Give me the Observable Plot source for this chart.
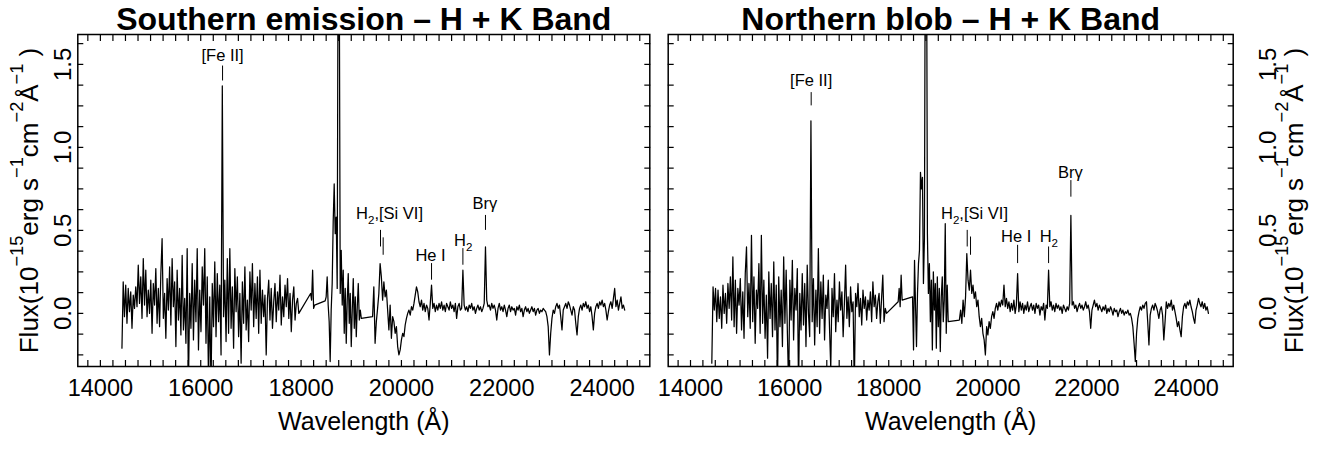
<!DOCTYPE html>
<html>
<head>
<meta charset="utf-8">
<script src="https://cdn.jsdelivr.net/npm/d3@7"></script>
<script src="https://cdn.jsdelivr.net/npm/@observablehq/plot@0.6"></script>
<style>
  html, body { margin: 0; padding: 0; background: #fff; }
  #root { position: relative; width: 1320px; height: 449px; overflow: hidden; background: #fff; }
  #root svg { position: absolute; top: 0; }
</style>
</head>
<body>
<div id="root"></div>
<script>
// ---------------- data ----------------
// wavelength sampling (Å) of the spectral segments that exist in both panels
const waveA = d3.range(14430, 17956, 25);          // H band
const waveB = [18190, 18210, 18230, 18250, 18270];  // small piece inside telluric gap
const waveC = d3.range(18480, 19201, 20);           // Paα region
const waveD = d3.range(19425, 24451, 25);           // K band

// Southern emission flux (1e-15 erg/s/cm2/Å)
const southA = [
 -0.21,0.19,-0.02,0.17,-0.06,0.15,0.01,0.13,-0.09,0.11,
 0.03,0.16,0.04,0.29,0.06,0.22,-0.03,0.33,0.05,0.26,
 -0.02,0.14,0.00,0.20,-0.12,0.18,0.05,0.27,-0.06,0.15,
 -0.08,0.24,0.45,-0.03,0.12,-0.15,0.21,0.02,0.28,-0.07,
 0.33,0.04,0.19,-0.20,0.26,-0.04,0.15,-0.13,0.35,-0.10,
 0.09,-0.18,0.39,-0.45,0.12,-0.09,0.30,-0.16,0.20,-0.05,
 0.39,-0.22,0.14,-0.11,0.28,0.05,0.39,-0.18,0.22,-0.42,
 0.10,-0.45,0.18,-0.08,0.31,-0.14,0.24,-0.05,0.17,-0.25,
 1.37,-0.02,0.20,-0.17,0.33,-0.12,0.39,-0.09,0.16,-0.21,
 0.27,0.01,0.22,-0.14,0.12,-0.30,0.19,-0.06,0.28,-0.10,
 0.08,-0.17,0.25,0.02,0.30,-0.08,0.18,-0.03,0.22,-0.12,
 0.26,-0.06,0.14,-0.02,0.11,-0.25,0.09,0.20,-0.04,0.15,
 -0.09,0.07,0.18,-0.05,0.13,0.02,0.23,-0.07,0.10,-0.02,
 0.17,0.04,0.21,-0.03,0.12,-0.11,0.08,0.16,-0.04,0.06,
 0.09,0.00
];
const southB = [0.12, 0.08, 0.26, 0.03, 0.05];
const southC = [
 0.075,0.10,0.22,0.05,-0.05,-0.29,0.02,0.18,0.55,0.78,
 0.48,0.58,0.15,2.5,2.2,0.12,0.38,0.05,0.26,-0.12,
 0.15,-0.18,0.08,0.24,-0.06,0.12,-0.20,0.02,0.21,-0.09,
 0.10,-0.14,0.04,0.18,-0.04,0.02,-0.03
];
const southD = [
 -0.02,0.16,-0.18,-0.05,0.03,0.12,0.30,0.22,0.08,0.19,
 0.10,0.14,0.02,-0.10,0.05,-0.15,-0.02,-0.05,-0.12,-0.08,
 -0.20,-0.25,-0.22,-0.16,-0.12,-0.14,-0.07,-0.03,0.00,0.02,
 -0.01,0.04,0.02,0.06,0.11,0.16,0.13,0.07,0.04,0.08,
 0.02,0.06,0.01,0.05,0.03,-0.04,0.06,0.17,0.03,0.06,
 0.01,0.05,0.02,0.06,0.03,0.07,0.02,0.05,0.01,0.06,
 0.04,0.02,0.07,0.03,0.05,0.01,0.06,-0.03,0.04,0.06,
 0.02,0.03,0.26,0.05,0.02,0.04,0.01,0.05,0.03,0.06,
 0.02,0.04,0.00,0.03,0.05,0.02,0.04,0.01,0.03,0.06,
 0.40,0.08,0.04,0.05,0.02,0.06,0.03,0.05,0.02,-0.04,
 0.03,0.06,0.02,0.04,0.01,0.05,0.02,-0.02,0.03,0.05,
 0.01,0.04,0.02,0.03,-0.01,0.04,0.02,0.05,0.01,0.03,
 -0.02,0.02,0.04,0.01,0.03,0.00,0.02,0.04,0.01,0.03,
 -0.01,0.02,0.03,0.00,0.02,0.01,0.03,0.02,0.01,-0.02,
 -0.08,-0.25,-0.12,-0.03,0.02,0.00,0.04,0.06,0.03,0.05,
 -0.02,-0.10,0.02,0.04,0.06,0.03,0.07,0.05,0.02,-0.01,
 0.04,0.02,-0.06,-0.13,-0.02,0.03,0.05,0.02,0.06,0.04,
 0.07,0.03,0.05,0.01,0.04,-0.02,-0.10,0.00,0.04,0.06,
 0.03,0.07,0.05,0.08,0.04,0.06,0.02,-0.04,0.01,0.05,
 0.07,0.03,0.09,0.15,0.04,0.08,0.02,0.06,0.10,0.03,
 0.05,0.02
];

// Northern blob flux
const northA = [
 -0.30,0.16,0.02,0.15,-0.05,0.14,-0.03,0.10,-0.09,0.17,
 0.00,0.12,-0.06,0.18,0.03,0.22,-0.04,0.34,-0.08,0.20,
 -0.12,0.15,0.05,0.21,-0.10,0.13,-0.15,0.24,0.40,-0.02,
 0.18,-0.09,0.47,-0.05,0.22,-0.18,0.14,0.03,0.30,-0.12,
 0.47,-0.06,0.20,-0.15,0.11,-0.27,0.25,-0.03,0.18,-0.14,
 0.31,-0.10,0.17,-0.45,0.22,-0.08,0.14,-0.20,0.34,-0.06,
 0.26,-0.12,-0.45,0.20,-0.04,0.32,-0.16,0.15,0.02,0.27,
 -0.45,0.12,-0.10,0.24,-0.07,0.18,-0.20,0.29,0.00,-0.14,
 1.16,-0.05,0.21,-0.19,0.14,-0.08,0.39,-0.12,0.19,-0.03,
 0.23,-0.16,0.11,0.03,0.20,-0.09,-0.33,0.15,-0.02,0.24,
 -0.11,0.08,-0.05,0.19,0.02,0.13,-0.14,0.06,0.29,-0.03,
 0.10,-0.08,0.16,0.01,0.07,-0.45,0.12,0.04,0.18,-0.02,
 0.09,-0.07,0.14,0.03,0.10,-0.04,0.08,0.02,0.13,-0.05,
 0.19,0.04,0.11,-0.03,0.07,0.12,-0.06,0.09,0.23,-0.05,
 0.03,0.00
];
const northB = [0.07, 0.15, 0.04, 0.23, 0.08];
const northC = [
 0.10,-0.22,0.32,0.05,-0.20,0.12,0.30,0.38,0.85,0.75,
 0.82,0.18,0.45,2.6,2.6,0.48,0.12,0.30,-0.05,0.20,
 -0.22,0.25,0.02,0.18,-0.21,0.22,-0.08,0.15,-0.23,0.10,
 0.22,-0.05,0.08,0.54,-0.12,0.17,-0.05
];
const northD = [
 -0.04,0.02,-0.06,0.08,-0.02,0.10,0.36,0.20,0.14,0.26,
 0.12,0.17,0.09,0.13,0.04,0.08,-0.02,-0.08,-0.03,-0.12,
 -0.16,-0.25,-0.08,-0.13,-0.05,-0.09,-0.02,0.01,-0.03,0.03,
 0.06,0.02,0.07,0.04,0.08,0.05,0.17,0.04,0.09,0.03,
 0.07,0.01,0.06,0.02,0.08,0.00,0.05,0.24,0.01,0.07,
 0.02,0.06,0.00,0.05,0.02,0.07,0.01,0.04,0.06,0.02,
 0.05,0.00,0.06,0.03,0.05,-0.01,0.04,0.02,0.06,-0.04,
 0.05,0.03,0.26,0.04,0.07,0.02,0.05,0.01,0.06,0.03,
 0.05,0.02,0.04,0.00,0.05,0.03,0.01,0.04,0.02,0.06,
 0.59,0.05,0.07,0.03,0.05,0.01,0.04,0.06,0.03,0.05,
 0.02,0.04,0.07,0.03,0.05,0.01,-0.09,0.02,0.05,0.08,
 0.04,0.06,0.02,0.05,0.03,0.01,0.04,0.02,0.05,0.00,
 0.03,0.01,0.04,0.02,-0.01,0.03,0.01,0.02,-0.02,0.01,
 0.03,0.00,0.02,-0.01,0.01,0.00,0.02,-0.01,0.00,-0.03,
 -0.08,-0.18,-0.29,-0.12,-0.03,0.01,0.04,0.02,0.05,0.03,
 0.06,0.07,-0.05,-0.19,-0.01,0.03,0.05,0.02,0.06,0.04,
 0.01,-0.03,0.02,0.04,-0.01,-0.16,-0.05,0.07,0.03,0.06,
 0.04,0.08,0.02,0.05,0.01,-0.03,-0.08,-0.05,-0.10,-0.14,
 -0.02,0.04,0.06,0.03,0.07,0.05,0.08,0.04,0.01,-0.03,
 -0.06,0.02,0.05,0.09,0.06,0.04,0.07,0.03,0.06,0.02,
 0.04,0.00
];

// line identifications: label text positions and marker ticks (Å, flux units)
const southLabels = [
  {w: 16435, y: 1.555, t: "[Fe II]"},
  {w: 19763, y: 0.598, t: "H_{2},[Si VI]"},
  {w: 20580, y: 0.347, t: "He I"},
  {w: 21231, y: 0.44,  t: "H_{2}"},
  {w: 21662, y: 0.66,  t: "Brγ"}
];
const southMarkers = [
  {w: 16435, y1: 1.40, y2: 1.49},
  {w: 19583, y1: 0.40, y2: 0.50},
  {w: 19636, y1: 0.35, y2: 0.455},
  {w: 20600, y1: 0.20, y2: 0.30},
  {w: 21225, y1: 0.29, y2: 0.39},
  {w: 21675, y1: 0.50, y2: 0.59}
];
const northLabels = [
  {w: 16435, y: 1.40, t: "[Fe II]"},
  {w: 19730, y: 0.60, t: "H_{2},[Si VI]"},
  {w: 20572, y: 0.46, t: "He I"},
  {w: 21230, y: 0.46, t: "H_{2}"},
  {w: 21667, y: 0.85, t: "Brγ"}
];
const northMarkers = [
  {w: 16435, y1: 1.25, y2: 1.33},
  {w: 19583, y1: 0.40, y2: 0.50},
  {w: 19650, y1: 0.35, y2: 0.46},
  {w: 20600, y1: 0.30, y2: 0.41},
  {w: 21225, y1: 0.30, y2: 0.40},
  {w: 21675, y1: 0.70, y2: 0.80}
];

// axes
const xDomain = [13550, 24950];
const yDomain = [-0.32, 1.68];
const xMajor = [14000, 16000, 18000, 20000, 22000, 24000];
const xMinor = d3.range(13750, 24951, 250);
const yMajor = [0.0, 0.5, 1.0, 1.5];
const yMinor = d3.range(-0.25, 1.68, 0.125);
const xTitle = "Wavelength (Å)";
const yTitle = "Flux(10^{−15}erg s^{−1}cm^{−2}Å^{−1} )";

// ---------------- drawing ----------------
const FONT = "'Liberation Sans', Arial, Helvetica, sans-serif";

function spectrum(segs) {
  const out = [];
  for (const [waves, flux] of segs) {
    const n = Math.min(waves.length, flux.length);
    for (let i = 0; i < n; ++i) out.push({w: waves[i], f: flux[i]});
  }
  return out;
}

// turn ^{..} and _{..} into raised / lowered tspans
function rich(fontSize, scale = 0.7, raise = 0.5, lower = 0.25) {
  return (index, scales, values, dims, ctx, next) => {
    const g = next(index, scales, values, dims, ctx);
    d3.select(g).selectAll("text").each(function () {
      const s = this.textContent;
      if (!/[\^_]\{/.test(s)) return;
      const el = d3.select(this);
      el.text(null);
      const re = /\^\{([^}]*)\}|_\{([^}]*)\}|([^\^_]+)/g;
      let m, shift = 0;
      while ((m = re.exec(s))) {
        const isSup = m[1] != null, isSub = m[2] != null;
        const target = isSup ? -raise * fontSize : isSub ? lower * fontSize : 0;
        const ts = el.append("tspan").text(isSup ? m[1] : isSub ? m[2] : m[3]);
        if (target !== shift) ts.attr("dy", target - shift);
        if (isSup || isSub) ts.attr("font-size", fontSize * scale);
        shift = target;
      }
    });
    return g;
  };
}

function panel({title, data, labels, markers, marginLeft, marginRight, side}) {
  return Plot.plot({
    width: 660,
    height: 449,
    marginLeft, marginRight,
    marginTop: 34,
    marginBottom: 83,
    x: {domain: xDomain, axis: null},
    y: {domain: yDomain, axis: null},
    style: {fontFamily: FONT, background: "white", color: "black", overflow: "visible"},
    marks: [
      Plot.line(data, {x: "w", y: "f", stroke: "black", strokeWidth: 1.25, clip: true}),
      Plot.ruleX(markers, {x: "w", y1: "y1", y2: "y2", stroke: "black", strokeWidth: 1}),
      Plot.text(labels, {x: "w", y: "y", text: "t", fontSize: 16.5,
        fill: "black", textAnchor: "middle", lineAnchor: "middle", render: rich(16.5, 0.7, 0.5, 0.3)}),
      Plot.frame({stroke: "black", strokeWidth: 1.5}),
      // inward ticks on all four sides
      Plot.axisX(xMinor, {anchor: "bottom", tickSize: -6, fill: "none", strokeWidth: 1.2}),
      Plot.axisX(xMinor, {anchor: "top", tickSize: -6, fill: "none", strokeWidth: 1.2}),
      Plot.axisY(yMinor, {anchor: "left", tickSize: -6, fill: "none", strokeWidth: 1.2}),
      Plot.axisY(yMinor, {anchor: "right", tickSize: -6, fill: "none", strokeWidth: 1.2}),
      // x tick labels
      Plot.text(xMajor, {x: d => d, frameAnchor: "bottom", dy: 13, lineAnchor: "top",
        text: d => String(d), fontSize: 23.5, fill: "black"}),
      // y tick labels (rotated)
      Plot.text(yMajor, {y: d => d, frameAnchor: side, dx: side === "left" ? -7.3 : 42.3,
        rotate: -90, textAnchor: "middle", lineAnchor: "bottom",
        text: d => d.toFixed(1), fontSize: 24, fill: "black"}),
      // axis titles
      Plot.text([xTitle], {frameAnchor: "bottom", dy: 63, lineAnchor: "bottom",
        text: d => d, fontSize: 25, fill: "black"}),
      Plot.text([yTitle], {frameAnchor: side, dx: side === "left" ? -40.3 : 69.3,
        rotate: -90, textAnchor: "middle", lineAnchor: "bottom",
        text: d => d, fontSize: 26, fill: "black", render: rich(26, 0.7, 0.55)}),
      // panel title
      Plot.text([title], {frameAnchor: "top", dy: -4.5, lineAnchor: "bottom",
        text: d => d, fontSize: 32, fontWeight: "bold", fill: "black"})
    ]
  });
}

const root = document.getElementById("root");
const left = panel({
  title: "Southern emission – H + K Band",
  data: spectrum([[waveA, southA], [waveB, southB], [waveC, southC], [waveD, southD]]),
  labels: southLabels, markers: southMarkers,
  marginLeft: 77.3, marginRight: 10.7, side: "left"
});
left.style.left = "0px";
root.appendChild(left);

const right = panel({
  title: "Northern blob – H + K Band",
  data: spectrum([[waveA, northA], [waveB, northB], [waveC, northC], [waveD, northD]]),
  labels: northLabels, markers: northMarkers,
  marginLeft: 7.7, marginRight: 87.3, side: "right"
});
right.style.left = "660px";
root.appendChild(right);
</script>
</body>
</html>
